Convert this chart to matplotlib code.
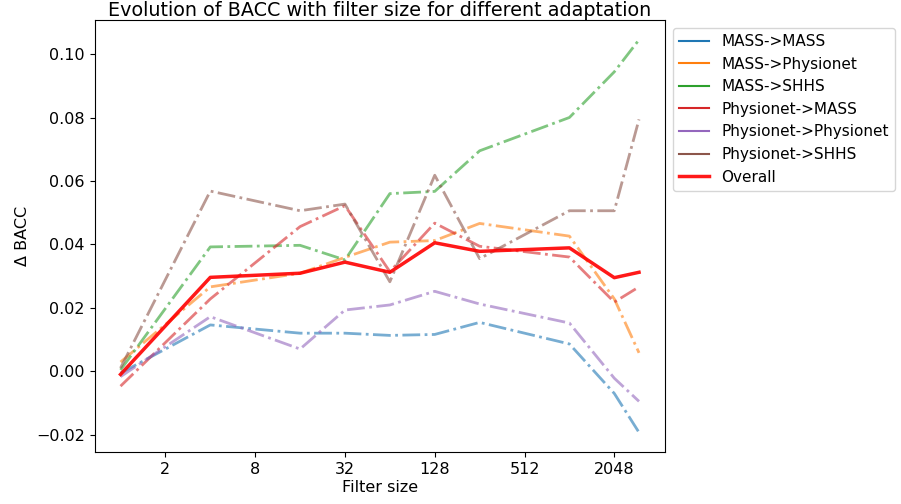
import matplotlib
matplotlib.use("Agg")
import matplotlib.pyplot as plt

filter_sizes = [1, 4, 16, 32, 64, 128, 256, 1024, 2048, 3000]
series_names = ["MASS->MASS", "MASS->Physionet", "MASS->SHHS",
                "Physionet->MASS", "Physionet->Physionet", "Physionet->SHHS"]
series_values = [
    [-0.0006, 0.0146, 0.012, 0.012, 0.0113, 0.0116, 0.0154, 0.0086, -0.007, -0.0193],
    [0.0029, 0.0266, 0.0309, 0.0359, 0.0407, 0.0412, 0.0466, 0.0426, 0.0228, 0.0058],
    [0.0004, 0.0392, 0.0397, 0.0351, 0.056, 0.0567, 0.0695, 0.080, 0.0944, 0.1045],
    [-0.0047, 0.0228, 0.0456, 0.0522, 0.0314, 0.0467, 0.0394, 0.036, 0.0218, 0.0266],
    [-0.0017, 0.0172, 0.007, 0.0193, 0.0209, 0.0252, 0.0212, 0.0152, -0.0022, -0.0095],
    [0.001, 0.0568, 0.0506, 0.0527, 0.0282, 0.0618, 0.0355, 0.0506, 0.0506, 0.0794],
]
overall = [-0.001, 0.0296, 0.0309, 0.0344, 0.0312, 0.0405, 0.0378, 0.0389, 0.0295, 0.0312]
xticks = [2, 8, 32, 128, 512, 2048]

plt.rcParams["font.size"] = 11.5
fig = plt.figure(figsize=(9.01, 5.04), dpi=100)
ax = fig.add_axes([0.105, 0.103, 0.633, 0.857])
colors = plt.rcParams["axes.prop_cycle"].by_key()["color"]
for i, (name, vals) in enumerate(zip(series_names, series_values)):
    ax.plot(filter_sizes, vals, linestyle="-.", lw=2, alpha=0.6, color=colors[i])
    ax.plot([], [], color=colors[i], label=name)
ax.plot(filter_sizes, overall, color="red", lw=2.5, alpha=0.9, label="Overall")
ax.set_xscale("log", base=2)
ax.set_xticks(xticks)
ax.set_xticklabels([str(t) for t in xticks])
ax.minorticks_off()
ax.set_xlabel("Filter size", labelpad=2)
ax.set_ylabel("Δ BACC")
ax.set_title("Evolution of BACC with filter size for different adaptation", pad=3)
ax.legend(loc="upper left", bbox_to_anchor=(1.0, 1.0), fontsize=11)
fig.savefig("out.png", dpi=100)
